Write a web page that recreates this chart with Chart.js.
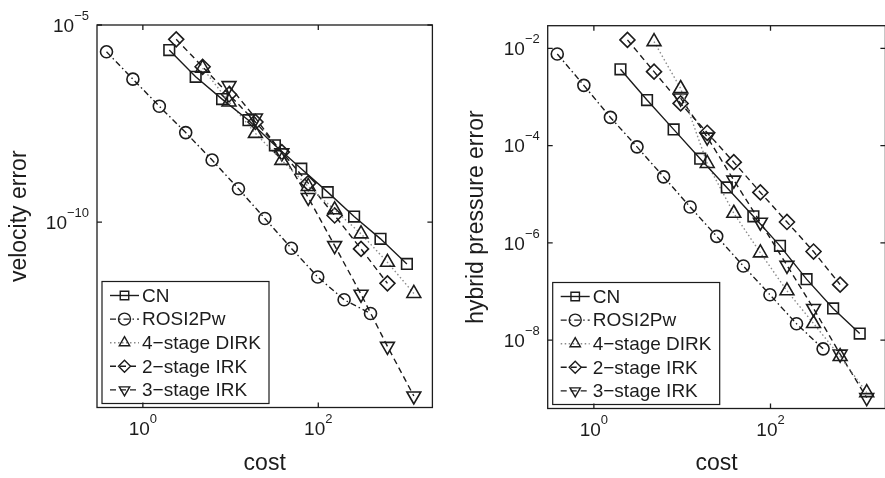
<!DOCTYPE html>
<html>
<head>
<meta charset="utf-8">
<script src="https://cdn.jsdelivr.net/npm/chart.js@4.4.0/dist/chart.umd.min.js"></script>
<style>
  html, body { margin: 0; padding: 0; background: #fff; overflow: hidden; width: 885px; height: 478px; }
  canvas { position: absolute; top: 0; }
  #left { left: 0; }
  #right { left: 445px; }
</style>
</head>
<body>
<canvas id="left" width="442" height="478"></canvas>
<canvas id="right" width="450" height="478"></canvas>
<script>
const seriesNames = ['CN', 'ROSI2Pw', '4\u2212stage DIRK', '2\u2212stage IRK', '3\u2212stage IRK'];

// cost of each run
const costCN = [2, 4, 8, 16, 32, 64, 128, 256, 512, 1024];
const costROSI = [0.385, 0.77, 1.54, 3.08, 6.16, 12.3, 24.6, 49.3, 98.6, 197, 394];
const costDIRK = [4.8, 9.6, 19.2, 38.4, 76.8, 153.6, 307.2, 614.4, 1228.8];
const costIRK2 = [2.4, 4.8, 9.6, 19.2, 38.4, 76.8, 153.6, 307.2, 614.4];
const costIRK3 = [9.6, 19.2, 38.4, 76.8, 153.6, 307.2, 614.4, 1228.8];

// left panel: velocity error
const velCN = [2.31e-6, 4.85e-7, 1.32e-7, 3.85e-8, 8.9e-9, 2.27e-9, 5.78e-10, 1.39e-10, 3.78e-11, 8.73e-12];
const velROSI = [2.09e-6, 4.24e-7, 8.7e-8, 1.87e-8, 3.76e-9, 7.05e-10, 1.24e-10, 2.18e-11, 4.07e-12, 1.08e-12, 4.84e-13];
const velDIRK = [8.07e-7, 1.12e-7, 1.79e-8, 3.7e-9, 8.05e-10, 2.06e-10, 5.06e-11, 9.6e-12, 1.56e-12];
const velIRK2 = [4.33e-6, 8.71e-7, 1.73e-7, 3.48e-8, 6.0e-9, 9.77e-10, 1.48e-10, 2.1e-11, 2.81e-12];
const velIRK3 = [2.9e-7, 4.37e-8, 5.73e-9, 4.24e-10, 2.55e-11, 1.49e-12, 7.1e-14, 3.91e-15];

// right panel: hybrid pressure error
const presCN = [3.72e-3, 8.67e-4, 2.16e-4, 5.4e-5, 1.38e-5, 3.52e-6, 8.67e-7, 1.79e-7, 4.46e-8, 1.36e-8];
const presROSI = [7.71e-3, 1.74e-3, 3.81e-4, 9.44e-5, 2.28e-5, 5.47e-6, 1.36e-6, 3.33e-7, 8.55e-8, 2.16e-8, 6.59e-9];
const presDIRK = [1.38e-2, 1.5e-3, 4.3e-5, 4.06e-6, 6.22e-7, 1.03e-7, 2.19e-8, 4.57e-9, 8.28e-10];
const presIRK2 = [1.5e-2, 3.33e-3, 7.41e-4, 1.84e-4, 4.57e-5, 1.09e-5, 2.69e-6, 6.62e-7, 1.38e-7];
const presIRK3 = [9.53e-4, 1.5e-4, 1.95e-5, 2.65e-6, 3.44e-7, 4.46e-8, 5.14e-9, 6.52e-10];

const xTicks = [1, 100];
const velTicks = [1e-10, 1e-5];
const presTicks = [1e-8, 1e-6, 1e-4, 1e-2];

const ink = '#1c1c1c';
const fam = "'Liberation Sans', Arial, Helvetica, sans-serif";

function pairs(xs, ys) {
    return xs.map((v, i) => ({ x: v, y: ys[i] }));
}

function makeSets(yCN, yROSI, yDIRK, yIRK2, yIRK3) {
    const sets = [
        { data: pairs(costCN, yCN), borderDash: [], pointStyle: 'rect', pointRadius: 7.5 },
        { data: pairs(costROSI, yROSI), borderDash: [6, 3, 1.5, 3], pointStyle: 'circle', pointRadius: 6 },
        { data: pairs(costDIRK, yDIRK), borderDash: [1.5, 2.5], borderColor: '#8a8a8a', pointStyle: 'triangle', pointRadius: 8 },
        { data: pairs(costIRK2, yIRK2), borderDash: [6, 4], pointStyle: 'rectRot', pointRadius: 7.5 },
        { data: pairs(costIRK3, yIRK3), borderDash: [6, 4], pointStyle: 'triangle', pointRotation: 180, pointRadius: 8 }
    ];
    return sets.map((d, i) => Object.assign({
        label: seriesNames[i],
        showLine: true,
        borderWidth: 1.4,
        borderColor: ink,
        pointBorderColor: ink,
        pointBorderWidth: 1.6,
        pointBackgroundColor: 'rgba(0,0,0,0)',
        pointRotation: 0,
        tension: 0
    }, d));
}

function marker(ctx, style, rot, x, y, r) {
    ctx.beginPath();
    if (style === 'rect') {
        const s = r * 1.414;
        ctx.rect(x - s / 2, y - s / 2, s, s);
    } else if (style === 'circle') {
        ctx.arc(x, y, r, 0, Math.PI * 2);
    } else if (style === 'rectRot') {
        ctx.moveTo(x, y - r); ctx.lineTo(x + r, y); ctx.lineTo(x, y + r); ctx.lineTo(x - r, y); ctx.closePath();
    } else {
        const k = rot === 180 ? -1 : 1;
        ctx.moveTo(x, y - k * r);
        ctx.lineTo(x + 0.866 * r, y + k * 0.5 * r);
        ctx.lineTo(x - 0.866 * r, y + k * 0.5 * r);
        ctx.closePath();
    }
    ctx.stroke();
}

function expText(v) {
    const e = Math.round(Math.log10(v));
    return (e < 0 ? '\u2212' : '') + Math.abs(e);
}

// box, inward ticks, 10^n labels and legend drawn like the matlab axes
const matlabAxes = {
    id: 'matlabAxes',
    afterDatasetsDraw(chart, args, opts) {
        const { ctx, chartArea: a } = chart;
        const xs = chart.scales.x, ys = chart.scales.y;
        ctx.save();

        // legend
        const lx = a.left + 5, lw = 167, lh = 122, ly = a.bottom - 4 - lh;
        ctx.fillStyle = '#fff';
        ctx.fillRect(lx, ly, lw, lh);
        ctx.strokeStyle = ink; ctx.lineWidth = 1.2;
        ctx.strokeRect(lx, ly, lw, lh);
        ctx.font = `19px ${fam}`;
        ctx.textBaseline = 'middle';
        ctx.textAlign = 'left';
        chart.data.datasets.forEach((d, i) => {
            const cy = ly + 14 + i * 23.6;
            ctx.setLineDash(d.borderDash);
            ctx.strokeStyle = d.borderColor;
            ctx.lineWidth = d.borderWidth;
            ctx.beginPath(); ctx.moveTo(lx + 8, cy); ctx.lineTo(lx + 37, cy); ctx.stroke();
            ctx.setLineDash([]);
            ctx.strokeStyle = ink; ctx.lineWidth = 1.4;
            marker(ctx, d.pointStyle, d.pointRotation, lx + 22.5, cy, 6);
            ctx.fillStyle = ink;
            ctx.fillText(d.label, lx + 40, cy + 1);
        });

        // box
        ctx.strokeStyle = ink; ctx.lineWidth = 1.3;
        ctx.strokeRect(a.left, a.top, a.right - a.left, a.bottom - a.top);

        ctx.textBaseline = 'alphabetic';
        ctx.fillStyle = ink;
        opts.xTicks.forEach(v => {
            const px = xs.getPixelForValue(v);
            ctx.beginPath();
            ctx.moveTo(px, a.bottom); ctx.lineTo(px, a.bottom - 5);
            ctx.moveTo(px, a.top); ctx.lineTo(px, a.top + 5);
            ctx.stroke();
            const e = expText(v);
            ctx.font = `19px ${fam}`; const w10 = ctx.measureText('10').width;
            ctx.font = `13px ${fam}`; const we = ctx.measureText(e).width;
            const start = px - (w10 + we) / 2;
            ctx.font = `19px ${fam}`; ctx.fillText('10', start, a.bottom + 27.5);
            ctx.font = `13px ${fam}`; ctx.fillText(e, start + w10, a.bottom + 15.5);
        });
        opts.yTicks.forEach(v => {
            const py = ys.getPixelForValue(v);
            ctx.beginPath();
            ctx.moveTo(a.left, py); ctx.lineTo(a.left + 5, py);
            ctx.moveTo(a.right, py); ctx.lineTo(a.right - 5, py);
            ctx.stroke();
            const e = expText(v);
            ctx.font = `19px ${fam}`; const w10 = ctx.measureText('10').width;
            ctx.font = `13px ${fam}`; const we = ctx.measureText(e).width;
            const start = a.left - 8 - (w10 + we);
            ctx.font = `19px ${fam}`; ctx.fillText('10', start, py + 6.7);
            ctx.font = `13px ${fam}`; ctx.fillText(e, start + w10, py - 5.3);
        });
        ctx.restore();
    }
};

function makeChart(id, sets, p) {
    return new Chart(document.getElementById(id), {
        type: 'scatter',
        data: { datasets: sets },
        options: {
            responsive: false,
            animation: false,
            layout: { padding: { top: p.top, right: p.right, bottom: 0, left: 0 } },
            plugins: {
                legend: { display: false },
                tooltip: { enabled: false },
                matlabAxes: { xTicks: xTicks, yTicks: p.yTicks }
            },
            scales: {
                x: {
                    type: 'logarithmic', min: 0.3, max: 2000, bounds: 'data',
                    grid: { display: false }, border: { display: false }, ticks: { display: false },
                    title: { display: true, text: 'cost', color: ink, font: { family: fam, size: 23 }, padding: { top: 0, bottom: 1 } },
                    afterFit: s => { s.height = p.xHeight; }
                },
                y: {
                    type: 'logarithmic', min: p.yMin, max: p.yMax, bounds: 'data',
                    grid: { display: false }, border: { display: false }, ticks: { display: false },
                    title: { display: true, text: p.yTitle, color: ink, font: { family: fam, size: 23 }, padding: { top: p.titlePad, bottom: 0 } },
                    afterFit: s => { s.width = p.yWidth; }
                }
            }
        },
        plugins: [matlabAxes]
    });
}

makeChart('left', makeSets(velCN, velROSI, velDIRK, velIRK2, velIRK3), {
    top: 25, right: 3, xHeight: 70.5, yWidth: 97, titlePad: 5.7,
    yMin: 2e-15, yMax: 1e-5, yTicks: velTicks, yTitle: 'velocity error'
});

makeChart('right', makeSets(presCN, presROSI, presDIRK, presIRK2, presIRK3), {
    top: 25.7, right: 6, xHeight: 69.5, yWidth: 102.7, titlePad: 17.5,
    yMin: 3.9e-10, yMax: 0.0294, yTicks: presTicks, yTitle: 'hybrid pressure error'
});
</script>
</body>
</html>
